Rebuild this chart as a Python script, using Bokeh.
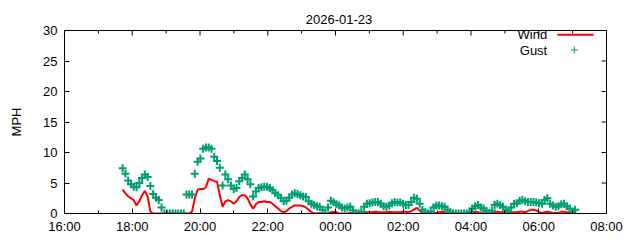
import numpy as np
import pandas as pd
from bokeh.plotting import figure
from bokeh.models import (FixedTicker, DatetimeTickFormatter, Range1d, ColumnDataSource)
from bokeh.core.properties import value
from bokeh.embed import file_html
from bokeh.resources import INLINE

# ---- data ----
title_text = "2026-01-23"
start_time = "2026-01-22 17:43"
step_seconds = 295

wind = [3.9, 3.3, 2.8,
        2.5, 2.2, 1.3, 2.0, 3.0, 3.7, 2.8, 0.3, 0, 0, 0, 0,
        0, 0, 0, 0, 0, 0, 0, 0, 0, 0, 0.3, 2.5,
        3.9, 4.0, 4.0, 4.3, 5.7, 5.5, 5.3, 5.2, 3.0, 1.1, 2.0, 2.2,
        2.0, 1.6, 2.0, 2.7, 3.0, 3.0, 2.5, 1.5, 0.8, 1.5, 1.9, 1.9,
        2.0, 1.9, 1.9, 1.6, 1.2, 0.8, 0.4, 0.2, 0.4, 0.8, 1.1, 1.35,
        1.3, 1.3, 1.2, 1.0, 0.6, 0.2, 0, 0, 0.1, 0, 0, 0,
        0.2, 0.3, 0.2, 0, 0, 0, 0, 0.1, 0, 0, 0, 0.1,
        0.2, 0.2, 0.2, 0.2, 0.3, 0.2, 0.2, 0.2, 0.2, 0.3, 0.2, 0.2,
        0.2, 0.2, 0.3, 0.3, 0.2, 0.4, 0.7, 0.9, 0.5, 0, 0, 0,
        0, 0, 0.1, 0.2, 0.3, 0.2, 0, 0, 0, 0, 0, 0,
        0, 0, 0, 0.2, 0.3, 0.2, 0.1, 0, 0, 0, 0.1, 0.2,
        0.3, 0.2, 0.2, 0, 0, 0.1, 0.2, 0.2, 0.3, 0.3, 0.2, 0.4,
        0.6, 0.6, 0.5, 0.2, 0.1, 0.2, 0.3, 0.2, 0.1, 0.1, 0.1, 0.3,
        0.3, 0.2, 0.1, 0.1, 0]

gust = [7.4, 6.5, 5.4,
        4.8, 4.4, 4.3, 5.0, 5.8, 6.4, 6.0, 4.5, 3.2, 2.6, 2.2, 1.0,
        0, 0, 0, 0, 0, 0, 0, 0, 3.1, 3.1, 3.1, 6.5,
        8.5, 9.0, 10.6, 10.8, 10.8, 10.6, 9.3, 8.6, 7.5, 4.6, 6.4, 5.6,
        4.6, 4.0, 4.2, 5.3, 5.8, 6.4, 5.6, 4.8, 2.8, 3.6, 4.2, 4.3,
        4.4, 4.4, 4.2, 3.8, 3.3, 3.0, 2.6, 2.0, 2.1, 2.6, 3.1, 3.3,
        3.2, 3.0, 2.8, 2.7, 2.0, 1.6, 1.4, 1.2, 1.1, 0.6, 0, 1.0,
        2.1, 1.9, 1.5, 1.3, 1.0, 0.8, 1.0, 1.1, 0.5, 0, 0, 0.3,
        1.1, 1.6, 1.7, 1.8, 1.9, 1.9, 1.6, 1.2, 1.1, 1.3, 1.7, 1.9,
        1.8, 1.8, 1.6, 1.4, 1.4, 1.9, 2.6, 2.4, 1.6, 0.6, 0.2, 0,
        0.3, 1.0, 1.3, 1.3, 1.2, 1.1, 0.6, 0.2, 0, 0, 0, 0,
        0, 0, 0.3, 0.8, 1.2, 1.4, 1.0, 0.8, 0.4, 0, 0.5, 1.4,
        1.6, 1.4, 1.1, 0.6, 0.3, 1.0, 1.6, 1.7, 2.1, 2.2, 2.0, 1.9,
        1.9, 1.9, 1.8, 1.7, 1.6, 2.2, 2.5, 1.6, 1.3, 1.1, 1.2, 1.5,
        1.6, 1.2, 0.8, 0.3, 0.6]

x_start = "2026-01-22 16:00"
x_end = "2026-01-23 08:00"
y_ticks = [0, 5, 10, 15, 20, 25, 30]
y_max = 30

# ---- build ----
t0 = pd.Timestamp(start_time)
t_wind = t0 + pd.to_timedelta(np.arange(len(wind)) * step_seconds, unit="s")
t_gust = t0 + pd.to_timedelta(np.arange(len(gust)) * step_seconds, unit="s")
src_w = ColumnDataSource(dict(t=t_wind, v=wind))
src_g = ColumnDataSource(dict(t=t_gust, v=gust))

xs = pd.Timestamp(x_start)
xe = pd.Timestamp(x_end)
def ms(ts):
    return ts.value / 1e6
major_ts = [xs + pd.Timedelta(hours=h) for h in range(0, 17, 2)]
minor_ts = [xs + pd.Timedelta(hours=h) for h in range(1, 17, 2)]
xticker = FixedTicker(ticks=[ms(t) for t in major_ts],
                      minor_ticks=[ms(t) for t in major_ts + minor_ts])
yticker = FixedTicker(ticks=y_ticks)

FONT = "Liberation Sans"
FS = "13px"

p = figure(width=640, height=240, x_axis_type="datetime",
           x_range=Range1d(xs, xe), y_range=Range1d(0, y_max),
           output_backend="svg", toolbar_location=None,
           min_border_left=64, min_border_right=34,
           min_border_top=0, min_border_bottom=27)
p.background_fill_color = "white"
p.border_fill_color = "white"
p.outline_line_color = "black"
p.outline_line_width = 1
p.xgrid.visible = False
p.ygrid.visible = False

p.title.text = title_text
p.title.align = "center"
p.title.vertical_align = "top"
p.title.text_font = FONT
p.title.text_font_size = FS
p.title.text_font_style = "normal"
p.title.text_color = "black"
p.title.padding = (7, 0, 9, 0)

fmt = DatetimeTickFormatter(hours="%H:%M", days="%H:%M", hourmin="%H:%M")

xa = p.xaxis[0]
xa.ticker = xticker
xa.formatter = fmt
ya = p.yaxis[0]
ya.ticker = yticker
ya.axis_label = "MPH"

for ax in (xa, ya):
    ax.major_tick_in = 5
    ax.major_tick_out = 0
    ax.minor_tick_in = 3
    ax.minor_tick_out = 0
    ax.axis_line_color = "black"
    ax.major_tick_line_color = "black"
    ax.minor_tick_line_color = "black"
    ax.major_label_text_font = FONT
    ax.major_label_text_font_size = FS
    ax.major_label_text_color = "black"
    ax.axis_label_text_font = FONT
    ax.axis_label_text_font_size = FS
    ax.axis_label_text_font_style = "normal"
    ax.axis_label_text_color = "black"
xa.major_label_standoff = 5
ya.major_label_standoff = 7
ya.axis_label_standoff = 16
ya.minor_tick_line_color = None

# mirrored ticks on top and right border (clipped to frame -> inward only)
p.scatter(x=major_ts, y=[y_max] * len(major_ts), marker="dash", angle=np.pi / 2,
          size=10, line_color="black", line_width=1)
p.scatter(x=minor_ts, y=[y_max] * len(minor_ts), marker="dash", angle=np.pi / 2,
          size=6, line_color="black", line_width=1)
p.scatter(x=[xe] * len(y_ticks), y=y_ticks, marker="dash",
          size=10, line_color="black", line_width=1)

p.line("t", "v", source=src_w, line_color="#ff0000", line_width=2)
p.scatter("t", "v", source=src_g, marker="cross", size=8,
          line_color="#009e73", line_width=2)

# legend (gnuplot style: text then sample)
leg_text_x = xs + pd.Timedelta(hours=14.25)
p.text(x=[leg_text_x, leg_text_x], y=[29.3, 26.8], text=["Wind", "Gust"],
       text_align="right", text_baseline="middle",
       text_font=value(FONT), text_font_size=FS, text_color="black")
p.segment(x0=[xs + pd.Timedelta(hours=14.55)], y0=[29.3],
          x1=[xs + pd.Timedelta(hours=15.62)], y1=[29.3],
          line_color="#ff0000", line_width=2)
p.scatter(x=[xs + pd.Timedelta(hours=15.05)], y=[26.8], marker="cross", size=7,
          line_color="#009e73", line_width=1)

open("out.html", "w").write(file_html(p, INLINE))
